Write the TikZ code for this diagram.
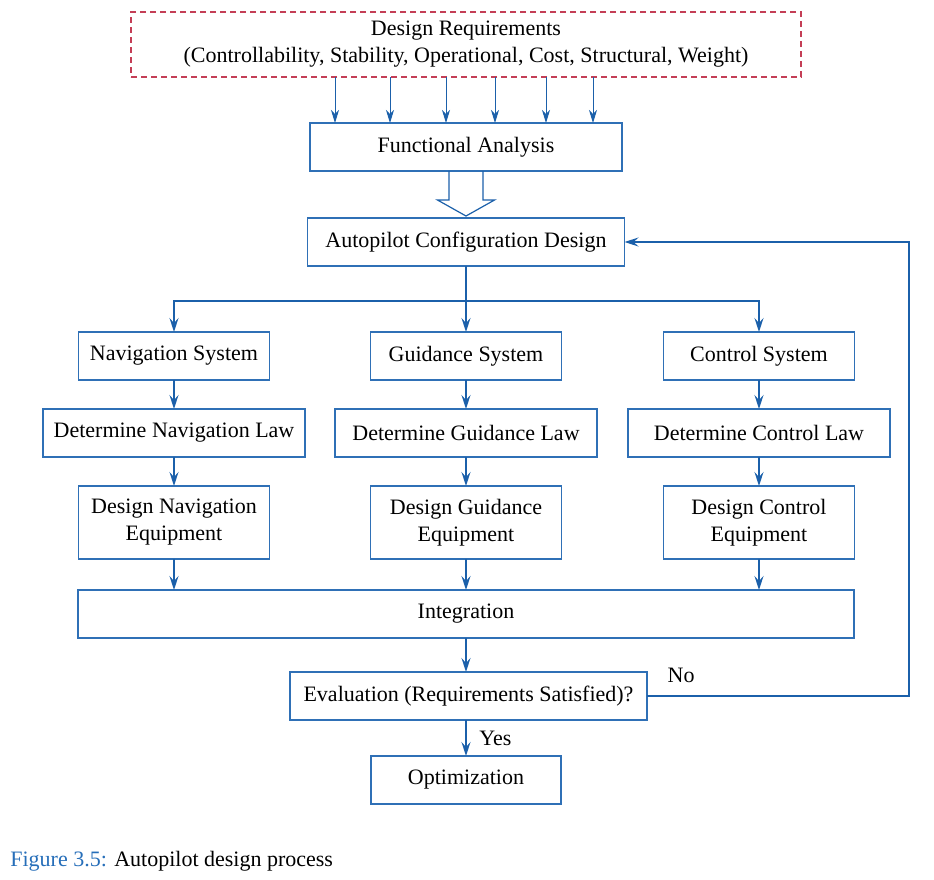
\documentclass[tikz,border=0pt]{standalone}
\usepackage{fontspec}
\setmainfont{Liberation Serif}
\usetikzlibrary{positioning,arrows.meta}
\definecolor{boxblue}{RGB}{47,112,182}
\definecolor{arrowblue}{RGB}{27,96,170}
\definecolor{dashred}{RGB}{196,62,86}
\definecolor{capblue}{RGB}{38,110,185}

\begin{document}
\begin{tikzpicture}[x=0.5pt, y=-0.5pt, node distance=14.5pt, font=\fontsize{11}{13.5}\selectfont]
        \tikzstyle{arrow} = [line width=0.75pt, color=arrowblue, -{Stealth[length=7pt,width=4.5pt,inset=2.5pt]}]
        \tikzstyle{thinarrow} = [line width=0.5pt, color=arrowblue, -{Stealth[length=6.5pt,width=4pt,inset=2pt]}]
        \tikzstyle{block} = [rectangle, minimum width=95.5pt, minimum height=24pt, inner sep=0pt, outer sep=0pt, text centered, align=center, draw=boxblue, line width=0.6pt]
        \tikzstyle{wide} = [block, minimum width=131pt]
        \tikzstyle{tall} = [block, minimum height=36.5pt]
        \tikzstyle{reqbox} = [rectangle, minimum width=335pt, minimum height=32.5pt, inner sep=0pt, outer sep=0pt, align=center, draw=dashred, dash pattern=on 3pt off 2pt, line width=0.6pt]
        \tikzstyle{hollow} = [draw=arrowblue, line width=0.6pt, line join=miter]

        \useasboundingbox (0,0) rectangle (934,880);

        \node (req) [reqbox] at (466,44.5) {Design Requirements\\(Controllability, Stability, Operational, Cost, Structural, Weight)};
        \node (func) [block, minimum width=156pt, below=23pt of req] {Functional Analysis};
        \node (config) [block, minimum width=158.5pt, below=23.5pt of func] {Autopilot Configuration Design};

        \node (guid) [block, below=33pt of config] {Guidance System};
        \node (nav) [block, left=50.5pt of guid] {Navigation System};
        \node (ctrl) [block, right=51pt of guid] {Control System};

        \node (detnav) [wide, below=of nav] {Determine Navigation Law};
        \node (detguid) [wide, below=of guid] {Determine Guidance Law};
        \node (detctrl) [wide, below=of ctrl] {Determine Control Law};

        \node (eqnav) [tall, below=of detnav] {Design Navigation\\Equipment};
        \node (eqguid) [tall, below=of detguid] {Design Guidance\\Equipment};
        \node (eqctrl) [tall, below=of detctrl] {Design Control\\Equipment};

        \node (integ) [block, minimum width=388pt, below=15.5pt of eqguid] {Integration};
        \node (eval) [block, minimum width=178.5pt, below=17pt of integ, xshift=1.25pt] {Evaluation (Requirements Satisfied)?};
        \node (opt) [block, minimum width=95pt, below=18pt of eval, xshift=-1.25pt] {Optimization};

        \node (caption) [anchor=west, inner sep=0pt] at (10,861) {\textcolor{capblue}{Figure 3.5:} Autopilot design process};

        \foreach \x in {335,390,446,495,546,593}
            \draw [thinarrow] (req.south -| \x,0) -- (func.north -| \x,0);

        \draw [hollow] ([xshift=-8.5pt]func.south) -- ++(0,-14.5pt) -- ++(-5.75pt,0) -- ([yshift=-22.5pt]func.south) -- ++(14.25pt,8pt) -- ++(-5.75pt,0) -- ([xshift=8.5pt]func.south);

        \draw [line width=0.75pt, color=arrowblue] (config.south) -- ++(0,-17.5pt) coordinate (split);
        \draw [arrow] (split) -| (nav);
        \draw [arrow] (split) -- (guid);
        \draw [arrow] (split) -| (ctrl);

        \draw [arrow] (nav) -- (detnav);
        \draw [arrow] (guid) -- (detguid);
        \draw [arrow] (ctrl) -- (detctrl);
        \draw [arrow] (detnav) -- (eqnav);
        \draw [arrow] (detguid) -- (eqguid);
        \draw [arrow] (detctrl) -- (eqctrl);
        \draw [arrow] (eqnav) -- (eqnav |- integ.north);
        \draw [arrow] (eqguid) -- (integ);
        \draw [arrow] (eqctrl) -- (eqctrl |- integ.north);

        \draw [arrow] (integ) -- (integ |- eval.north);
        \draw [arrow] (opt |- eval.south) -- node [right=3pt, text=black] {Yes} (opt);
        \draw [arrow] (eval.east) -- node [pos=0.13, above=3pt, text=black] {No} ++(131pt,0) |- (config.east);

    \end{tikzpicture}
\end{document}
